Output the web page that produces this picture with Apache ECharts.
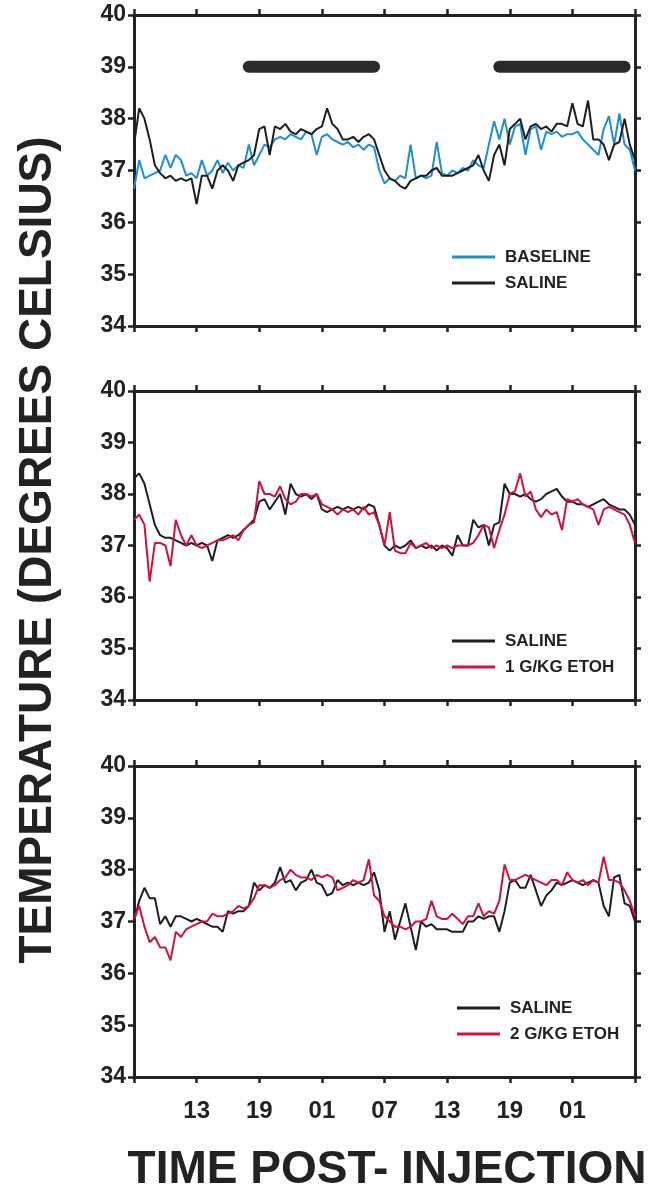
<!DOCTYPE html>
<html>
<head>
<meta charset="utf-8">
<script src="https://cdn.jsdelivr.net/npm/echarts@6/dist/echarts.min.js"></script>
<style>
  html, body { margin: 0; padding: 0; background: #ffffff; }
  #chart { width: 659px; height: 1194px; }
</style>
</head>
<body>
<div id="chart"></div>
<script>
// Body temperature, sampled every half hour over 48 h after injection (t = 0 is 07:00)
const STEP_HOURS = 0.5;

const baselineTop = [
  36.65, 37.2, 36.85, 36.9, 36.95, 37.0, 37.3, 37.05, 37.3, 37.2, 36.9, 36.95,
  36.85, 37.2, 36.9, 37.0, 37.2, 36.95, 37.15, 37.0, 37.1, 37.05, 37.5, 37.1,
  37.3, 37.5, 37.45, 37.6, 37.65, 37.6, 37.7, 37.65, 37.6, 37.75, 37.7, 37.3,
  37.65, 37.7, 37.6, 37.55, 37.5, 37.55, 37.45, 37.5, 37.4, 37.5, 37.45, 37.0,
  36.75, 36.85, 36.8, 36.9, 36.85, 37.5, 36.85, 36.9, 36.85, 36.9, 37.55, 36.95,
  36.9, 37.0, 36.95, 37.05, 37.0, 37.2, 37.1, 37.05, 37.5, 37.95, 37.6, 38.0,
  37.5, 37.85, 37.9, 37.3, 37.8, 37.85, 37.4, 37.75, 37.7, 37.75, 37.65, 37.7,
  37.7, 37.75, 37.6, 37.5, 37.4, 37.3, 37.8, 38.05, 37.5, 38.1, 37.5, 37.4,
  37.0
];
const salineTop = [
  37.5, 38.2, 38.0, 37.6, 37.1, 36.95, 36.85, 36.9, 36.8, 36.85, 36.8, 36.85,
  36.35, 36.9, 36.9, 36.65, 37.0, 37.1, 37.0, 36.8, 37.1, 37.15, 37.2, 37.3,
  37.8, 37.85, 37.3, 37.85, 37.8, 37.9, 37.75, 37.7, 37.8, 37.75, 37.7, 37.8,
  37.85, 38.2, 37.9, 37.8, 37.6, 37.6, 37.65, 37.55, 37.65, 37.7, 37.6, 37.3,
  37.0, 36.85, 36.8, 36.7, 36.65, 36.8, 36.85, 36.9, 36.9, 37.0, 37.05, 36.9,
  36.9, 36.9, 36.95, 37.0, 37.05, 37.1, 37.3, 37.0, 36.8, 37.3, 37.5, 37.1,
  37.8, 37.9, 38.0, 37.6, 37.85, 37.9, 37.8, 37.85, 37.75, 37.9, 37.9, 37.85,
  38.3, 37.9, 37.85, 38.35, 37.6, 37.6, 37.5, 37.2, 37.5, 37.55, 38.0, 37.5,
  37.2
];
const salineMid = [
  38.3, 38.4, 38.2, 37.8, 37.4, 37.2, 37.15, 37.15, 37.1, 37.05, 37.0, 37.05,
  37.0, 37.05, 37.0, 36.7, 37.1, 37.15, 37.2, 37.15, 37.2, 37.3, 37.4, 37.5,
  37.85, 37.9, 37.7, 37.85, 38.0, 37.6, 38.2, 38.0, 37.95, 38.0, 37.9, 38.0,
  37.7, 37.65, 37.7, 37.75, 37.7, 37.75, 37.7, 37.75, 37.7, 37.8, 37.75, 37.4,
  37.0, 36.9, 37.0, 36.95, 37.0, 37.1, 36.95, 37.0, 36.95, 37.0, 36.9, 37.0,
  36.95, 36.8, 37.2, 37.0, 37.0, 37.5, 37.35, 37.4, 37.0, 37.4, 37.45, 38.2,
  38.0, 38.0, 37.95, 38.0, 37.9, 37.85, 37.9, 38.0, 38.05, 38.1, 37.95, 37.85,
  37.85, 37.8, 37.8, 37.75, 37.8, 37.85, 37.9, 37.8, 37.75, 37.7, 37.7, 37.6,
  37.4
];
const etoh1Mid = [
  37.5, 37.6, 37.4, 36.3, 37.05, 37.05, 37.0, 36.6, 37.5, 37.2, 37.0, 37.2,
  37.0, 36.95, 37.0, 37.05, 37.1, 37.1, 37.15, 37.2, 37.1, 37.3, 37.4, 37.45,
  38.25, 38.0, 38.0, 37.95, 38.15, 37.9, 37.8, 37.85, 38.0, 38.0, 37.95, 38.0,
  37.8, 37.75, 37.7, 37.6, 37.7, 37.65, 37.7, 37.6, 37.75, 37.6, 37.65, 37.4,
  37.0, 37.65, 36.9, 36.85, 36.85, 37.05, 36.95, 37.0, 37.05, 36.95, 37.0, 36.95,
  37.0, 36.95, 37.0, 37.0, 37.0, 37.05, 37.2, 37.4, 37.35, 36.95, 37.3, 37.6,
  38.0, 38.05, 38.4, 37.95, 38.05, 37.7, 37.55, 37.7, 37.6, 37.65, 37.3, 37.9,
  37.85, 37.9, 37.8, 37.75, 37.7, 37.4, 37.7, 37.75, 37.7, 37.65, 37.6, 37.4,
  37.05
];
const salineBot = [
  37.0, 37.4, 37.65, 37.45, 37.45, 36.95, 37.1, 36.9, 37.1, 37.1, 37.05, 37.0,
  37.05, 37.0, 36.95, 36.9, 36.9, 36.8, 37.2, 37.15, 37.2, 37.2, 37.3, 37.75,
  37.6, 37.7, 37.65, 37.75, 38.05, 37.75, 37.8, 37.6, 37.75, 37.8, 38.0, 37.75,
  37.7, 37.5, 37.55, 37.8, 37.7, 37.75, 37.7, 37.75, 37.7, 37.75, 37.95, 37.6,
  36.8, 37.2, 36.65, 37.0, 37.35, 36.9, 36.45, 37.0, 36.9, 36.95, 36.85, 36.85,
  36.85, 36.8, 36.8, 36.8, 37.0, 37.0, 37.1, 37.05, 37.1, 37.1, 36.8, 37.2,
  37.75, 37.8, 37.65, 37.65, 37.9, 37.6, 37.3, 37.5, 37.6, 37.75, 37.7, 37.75,
  37.8, 37.75, 37.7, 37.75, 37.8, 37.75, 37.3, 37.1, 37.85, 37.9, 37.35, 37.3,
  37.0
];
const etoh2Bot = [
  37.05, 37.3, 36.9, 36.6, 36.7, 36.5, 36.5, 36.25, 36.8, 36.7, 36.85, 36.9,
  36.95, 37.0, 37.0, 37.15, 37.1, 37.1, 37.15, 37.2, 37.3, 37.25, 37.3, 37.45,
  37.7, 37.7, 37.65, 37.7, 37.8, 37.85, 38.0, 37.9, 37.85, 37.85, 37.8, 37.9,
  37.85, 37.9, 37.85, 37.6, 37.65, 37.7, 37.8, 37.75, 37.8, 38.2, 37.5, 37.4,
  37.1, 37.0, 36.9, 36.9, 36.85, 36.9, 37.0, 37.0, 37.05, 37.4, 37.1, 37.05,
  37.05, 37.15, 37.05, 36.95, 37.1, 37.1, 37.35, 37.1, 37.2, 37.15, 37.4, 38.1,
  37.8, 37.8, 37.85, 37.9, 37.85, 37.8, 37.75, 37.7, 37.8, 37.8, 37.7, 37.95,
  37.8, 37.75, 37.8, 37.7, 37.8, 37.75, 38.25, 37.8, 37.8, 37.75, 37.6, 37.4,
  37.1
];

// Lights-off (dark phase) intervals, hours after injection
const darkPeriods = [[11, 23], [35, 47]];
const darkLevel = 39;

// Clock-time labels for the 6-hour ticks
const xTickLabels = ['', '13', '19', '01', '07', '13', '19', '01', ''];

const COLORS = { baseline: '#1f8fd3', saline: '#1e1e1e', etoh: '#d4103c', ink: '#222222' };
const FONT = '"Liberation Sans", Arial, Helvetica, sans-serif';

function toPoints(values) {
  return values.map((v, i) => [i * STEP_HOURS, v]);
}

const gridBoxes = [
  { left: 134, top: 15, width: 501, height: 311 },
  { left: 134, top: 391, width: 501, height: 309 },
  { left: 134, top: 766, width: 501, height: 311 }
];

const xAxes = [];
const yAxes = [];
gridBoxes.forEach((g, i) => {
  const line = { show: true, onZero: false, lineStyle: { color: COLORS.ink, width: 3 } };
  const tick = { show: true, inside: false, length: 6, lineStyle: { color: COLORS.ink, width: 2.5 } };
  xAxes.push({
    type: 'value', gridIndex: i, position: 'bottom', min: 0, max: 48, interval: 6,
    axisLine: line, axisTick: tick, splitLine: { show: false },
    axisLabel: {
      show: i === 2, margin: 22, color: COLORS.ink, fontFamily: FONT, fontWeight: 'bold', fontSize: 24,
      formatter: v => xTickLabels[Math.round(v / 6)]
    }
  });
  xAxes.push({
    type: 'value', gridIndex: i, position: 'top', min: 0, max: 48, interval: 6,
    axisLine: line, axisTick: tick, splitLine: { show: false }, axisLabel: { show: false }
  });
  yAxes.push({
    type: 'value', gridIndex: i, position: 'left', min: 34, max: 40, interval: 1,
    axisLine: line, axisTick: tick, splitLine: { show: false },
    axisLabel: { show: true, margin: 8, color: COLORS.ink, fontFamily: FONT, fontWeight: 'bold', fontSize: 23 }
  });
  yAxes.push({
    type: 'value', gridIndex: i, position: 'right', min: 34, max: 40, interval: 1,
    axisLine: line, axisTick: tick, splitLine: { show: false }, axisLabel: { show: false }
  });
});

function lineSeries(name, values, panel, color, z) {
  return {
    type: 'line', name: name, data: toPoints(values),
    xAxisIndex: panel * 2, yAxisIndex: panel * 2,
    symbol: 'none', smooth: false, z: z,
    lineStyle: { color: color, width: 2 }, itemStyle: { color: color },
    emphasis: { disabled: true }
  };
}

const series = [
  lineSeries('BASELINE', baselineTop, 0, COLORS.baseline, 2),
  lineSeries('SALINE', salineTop, 0, COLORS.saline, 3),
  lineSeries('SALINE', salineMid, 1, COLORS.saline, 2),
  lineSeries('1 G/KG ETOH', etoh1Mid, 1, COLORS.etoh, 3),
  lineSeries('SALINE', salineBot, 2, COLORS.saline, 2),
  lineSeries('2 G/KG ETOH', etoh2Bot, 2, COLORS.etoh, 3)
];
darkPeriods.forEach(([start, end]) => {
  series.push({
    type: 'line', name: 'dark', data: [[start, darkLevel], [end, darkLevel]],
    xAxisIndex: 0, yAxisIndex: 0, symbol: 'none', silent: true, z: 4,
    lineStyle: { color: '#2a2a2a', width: 12, cap: 'round' }
  });
});

function legendFor(names, left, top) {
  return {
    data: names, orient: 'vertical', left: left, top: top,
    icon: 'rect', itemWidth: 43, itemHeight: 3, itemGap: 6,
    selectedMode: false,
    textStyle: { color: COLORS.ink, fontFamily: FONT, fontWeight: 'bold', fontSize: 17, lineHeight: 20, padding: [0, 0, 0, 5] }
  };
}

const option = {
  backgroundColor: '#ffffff',
  animation: false,
  grid: gridBoxes,
  xAxis: xAxes,
  yAxis: yAxes,
  legend: [
    legendFor(['BASELINE', 'SALINE'], 447, 242),
    legendFor(['SALINE', '1 G/KG ETOH'], 447, 626),
    legendFor(['SALINE', '2 G/KG ETOH'], 452, 993)
  ],
  series: series,
  graphic: [
    {
      type: 'text',
      x: 38, y: 550, rotation: Math.PI / 2,
      style: {
        text: 'TEMPERATURE (DEGREES CELSIUS)', fill: COLORS.ink,
        font: 'bold 46px ' + FONT, align: 'center', verticalAlign: 'middle'
      }
    },
    {
      type: 'text',
      x: 387, y: 1170,
      style: {
        text: 'TIME POST- INJECTION', fill: COLORS.ink,
        font: 'bold 46px ' + FONT, align: 'center', verticalAlign: 'middle'
      }
    }
  ]
};

const chart = echarts.init(document.getElementById('chart'), null, { renderer: 'canvas' });
chart.setOption(option);
</script>
</body>
</html>
